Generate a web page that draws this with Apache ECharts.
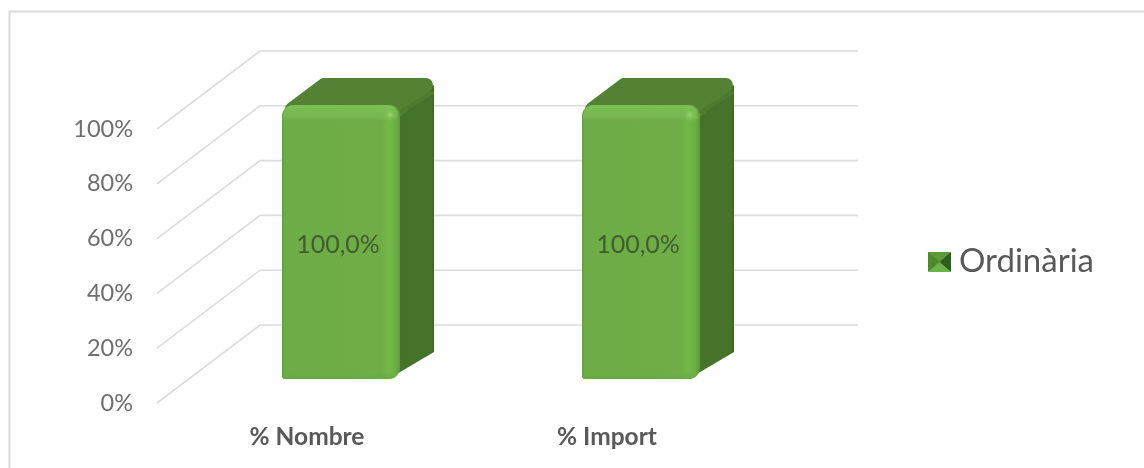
<!DOCTYPE html>
<html>
<head>
<meta charset="utf-8">
<style>html,body{margin:0;padding:0;background:#fff}#c{width:1144px;height:468px}</style>
<script src="https://cdn.jsdelivr.net/npm/echarts@6/dist/echarts.min.js"></script>
</head>
<body>
<div id="c"></div>
<script>
const categories = ['% Nombre', '% Import'];
const seriesName = 'Ordinària';
const seriesValues = [100, 100];
const barLabels = ['100,0%', '100,0%'];
const axisTicks = [0, 20, 40, 60, 80, 100];

const DEPTH_X = 103, DEPTH_Y = 78;
const BAR_DX = 34, BAR_DY = 24, BAR_W = 118, SIDE_X = 34, SIDE_Y = 27;
const FONT = 'Lato, "Open Sans", sans-serif';

function lg(x, y, x2, y2, stops) {
  return {type: 'linear', x, y, x2, y2, colorStops: stops.map(s => ({offset: s[0], color: s[1]}))};
}

function renderWall(params, api) {
  const cs = params.coordSys;
  const y = api.coord([0, api.value(1)])[1];
  const x0 = cs.x, x1 = cs.x + DEPTH_X, x2 = cs.x + cs.width + DEPTH_X - 2;
  return {
    type: 'polyline',
    silent: true,
    shape: {points: [[x0, y], [x1, y - DEPTH_Y], [x2, y - DEPTH_Y]]},
    style: {fill: null, stroke: '#dcdcdc', lineWidth: 1.6}
  };
}

function renderBar(params, api) {
  const idx = api.value(0);
  const topPt = api.coord([idx, api.value(1)]);
  const botPt = api.coord([idx, 0]);
  const l = topPt[0] + BAR_DX - BAR_W / 2, r = l + BAR_W;
  const t = topPt[1] - BAR_DY, b = botPt[1] - BAR_DY;
  const rx = r + SIDE_X, ty = t - SIDE_Y, by = b - SIDE_Y;
  return {
    type: 'group',
    children: [
      {type: 'polygon',
       shape: {points: [[r - 10, b - 1], [rx, by], [rx, ty + 7], [r - 10, t + 6]]},
       style: {fill: lg(0, 0, 1, 0, [[0, '#447229'], [0.93, '#467329'], [1, '#3e6825']])}},
      {type: 'polygon',
       shape: {points: [[l + 10, t + 4], [l + SIDE_X + 8, ty + 7], [rx - 8, ty + 7], [r - 6, t + 8]]},
       style: {fill: '#548235', stroke: '#548235', lineWidth: 14, lineJoin: 'round'}},
      {type: 'line',
       shape: {x1: r + 1, y1: t + 7, x2: rx - 1, y2: ty + 14},
       style: {stroke: '#4c7a2f', lineWidth: 4}},
      {type: 'rect',
       shape: {x: l, y: t, width: BAR_W, height: b - t, r: [11, 11, 11, 3]},
       style: {fill: lg(0, 0, 1, 0, [[0, '#5f9c3c'], [0.02, '#6dac46'], [0.84, '#70ad47'], [0.9, '#73b84a'], [0.96, '#6cb045'], [1, '#5d9a38']])}},
      {type: 'rect',
       shape: {x: l + 1, y: t, width: BAR_W - 3, height: 17, r: [11, 11, 0, 0]},
       style: {fill: lg(0, 0, 0, 1, [[0, 'rgba(122,192,84,0.95)'], [0.7, 'rgba(124,186,86,0.7)'], [1, 'rgba(112,173,71,0)']])}},
      {type: 'circle',
       shape: {cx: r - 10, cy: t + 10, r: 7},
       style: {fill: {type: 'radial', x: 0.5, y: 0.5, r: 0.5, colorStops: [{offset: 0, color: 'rgba(150,215,110,0.95)'}, {offset: 1, color: 'rgba(120,190,80,0)'}]}}},
      {type: 'rect',
       shape: {x: l + 1, y: b - 7, width: BAR_W - 5, height: 7, r: [0, 0, 9, 2]},
       style: {fill: lg(0, 0, 0, 1, [[0, 'rgba(108,178,66,0)'], [1, 'rgba(100,170,60,0.95)']])}},
      {type: 'text',
       style: {text: barLabels[idx], x: (l + r) / 2 - 3, y: (t + b) / 2 + 3, align: 'center', verticalAlign: 'middle',
               font: '25px ' + FONT, fill: '#3e5f2d'}}
    ]
  };
}

const chart = echarts.init(document.getElementById('c'), null, {renderer: 'canvas'});
chart.setOption({
  animation: false,
  backgroundColor: '#fff',
  textStyle: {fontFamily: FONT},
  grid: {left: 157, top: 129, width: 600, height: 274, containLabel: false},
  legend: {
    data: [seriesName], left: 928, top: 245, padding: 0, icon: 'rect', itemWidth: 23, itemHeight: 18, itemGap: 8,
    selectedMode: false,
    textStyle: {fontFamily: FONT, fontSize: 33, color: '#595959', padding: [0, 0, 0, 3]}
  },
  xAxis: {
    type: 'category', data: categories,
    axisLine: {show: false}, axisTick: {show: false}, splitLine: {show: false},
    axisLabel: {fontFamily: FONT, fontWeight: 'bold', fontSize: 24.5, color: '#595959', margin: 22}
  },
  yAxis: {
    type: 'value', min: 0, max: 100, interval: 20,
    axisLine: {show: false}, axisTick: {show: false}, splitLine: {show: false},
    axisLabel: {fontFamily: FONT, fontSize: 23.5, color: '#6e6e6e', margin: 24, formatter: '{value}%'}
  },
  series: [
    {type: 'custom', name: 'wall', silent: true, z: 1, encode: {x: 0, y: 1}, renderItem: renderWall,
     data: axisTicks.map(v => [0, v])},
    {type: 'custom', name: seriesName, z: 2, encode: {x: 0, y: 1}, renderItem: renderBar,
     itemStyle: {color: '#5a9a35'},
     data: seriesValues.map((v, i) => [i, v])}
  ],
  graphic: [
    {type: 'polyline', silent: true, z: 10, shape: {points: [[9.5, 468], [9.5, 11.5], [1144, 11.5]]},
     style: {fill: null, stroke: '#d9d9d9', lineWidth: 2}},
    {type: 'polygon', silent: true, z: 10, shape: {points: [[928, 252], [951, 252], [939.5, 262]]}, style: {fill: '#5d9a3a'}},
    {type: 'polygon', silent: true, z: 10, shape: {points: [[928, 252], [939.5, 262], [928, 272]]}, style: {fill: '#4d8a2b'}},
    {type: 'polygon', silent: true, z: 10, shape: {points: [[951, 252], [951, 272], [939.5, 262]]}, style: {fill: '#2f5f1c'}},
    {type: 'polygon', silent: true, z: 10, shape: {points: [[928, 272], [951, 272], [939.5, 262]]}, style: {fill: '#6bb347'}}
  ]
});
</script>
</body>
</html>
